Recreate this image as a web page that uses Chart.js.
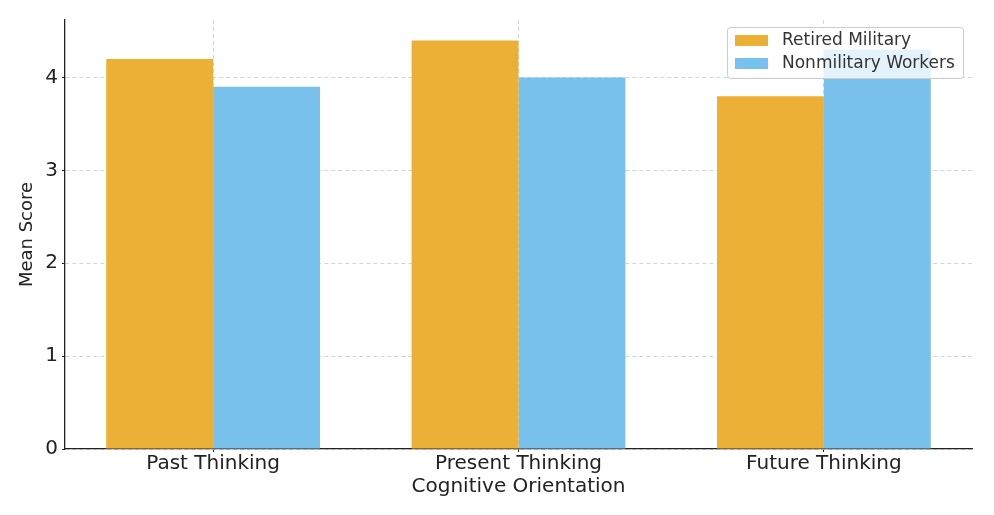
<!DOCTYPE html>
<html>
<head>
<meta charset="utf-8">
<script src="https://cdn.jsdelivr.net/npm/chart.js@4"></script>
<style>
  html, body { margin: 0; padding: 0; background: #fff; }
  #wrap { width: 994px; height: 515px; }
</style>
</head>
<body>
<div id="wrap"><canvas id="myChart"></canvas></div>
<script>
var categorias = ['Past Thinking', 'Present Thinking', 'Future Thinking'];
var militares = [4.2, 4.4, 3.8];
var naoMilitares = [3.9, 4.0, 4.3];
var yTicks = [0, 1, 2, 3, 4];

// monta os pontos {x, y} para a escala linear
function pontos(valores) {
  return valores.map(function (v, i) { return { x: i, y: v }; });
}

// legenda desenhada dentro da area do grafico, estilo caixa
var legendaBox = {
  id: 'legendaBox',
  afterDraw: function (chart) {
    var ctx = chart.ctx;
    var x = 727, y = 27, w = 236, h = 51;
    ctx.save();
    ctx.fillStyle = 'rgba(255,255,255,0.8)';
    ctx.strokeStyle = '#cccccc';
    ctx.lineWidth = 1;
    ctx.beginPath();
    ctx.roundRect(x + 0.5, y + 0.5, w, h, 3);
    ctx.fill();
    ctx.stroke();
    ctx.font = '17px "DejaVu Sans"';
    ctx.textBaseline = 'middle';
    chart.data.datasets.forEach(function (ds, i) {
      var ly = y + 13 + i * 23;
      ctx.fillStyle = ds.backgroundColor;
      ctx.fillRect(x + 8, ly - 5, 33, 11);
      ctx.fillStyle = '#333333';
      ctx.fillText(ds.label, x + 55, ly + 1);
    });
    ctx.restore();
  }
};

var gradeTracejada = {
  color: '#d4d4d4',
  offset: false,
  drawTicks: true,
  tickLength: 3,
  tickColor: '#222',
  tickBorderDash: []
};

const ctx = document.getElementById('myChart').getContext('2d');
const myChart = new Chart(ctx, {
  type: 'bar',
  data: {
    datasets: [{
      label: 'Retired Military',
      data: pontos(militares),
      backgroundColor: '#EBB035',
      borderWidth: 0
    }, {
      label: 'Nonmilitary Workers',
      data: pontos(naoMilitares),
      backgroundColor: '#78C1EC',
      borderWidth: 0
    }]
  },
  options: {
    responsive: true,
    maintainAspectRatio: false,
    animation: false,
    layout: { padding: { top: 20, right: 22, left: 0, bottom: 0 } },
    datasets: { bar: { categoryPercentage: 0.7, barPercentage: 1.0 } },
    plugins: {
      legend: { display: false },
      tooltip: { enabled: false }
    },
    scales: {
      x: {
        type: 'linear',
        min: -0.485,
        max: 2.485,
        offset: false,
        afterBuildTicks: function (scale) {
          scale.ticks = categorias.map(function (c, i) { return { value: i }; });
        },
        afterFit: function (scale) { scale.height = 66; },
        ticks: {
          autoSkip: false,
          maxRotation: 0,
          padding: 0,
          color: '#222',
          font: { family: 'DejaVu Sans', size: 20 },
          callback: function (v) { return categorias[v]; }
        },
        grid: gradeTracejada,
        border: { display: true, color: '#222', width: 1.3, dash: [4, 3] },
        title: {
          display: true,
          text: 'Cognitive Orientation',
          color: '#222',
          padding: { top: 0, bottom: 16 },
          font: { family: 'DejaVu Sans', size: 20 }
        }
      },
      y: {
        min: 0,
        max: 4.62,
        afterBuildTicks: function (scale) {
          scale.ticks = yTicks.map(function (v) { return { value: v }; });
        },
        afterFit: function (scale) { scale.width = 65; },
        ticks: {
          padding: 4,
          color: '#222',
          font: { family: 'DejaVu Sans', size: 20 }
        },
        grid: gradeTracejada,
        border: { display: true, color: '#222', width: 1.3, dash: [4, 3] },
        title: {
          display: true,
          text: 'Mean Score',
          color: '#222',
          padding: { top: 17, bottom: 0 },
          font: { family: 'DejaVu Sans', size: 18 }
        }
      }
    }
  },
  plugins: [legendaBox]
});
</script>
</body>
</html>
